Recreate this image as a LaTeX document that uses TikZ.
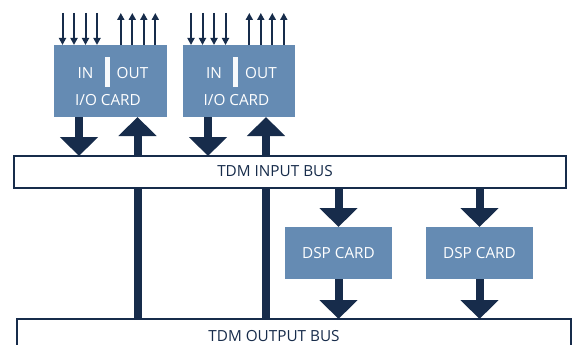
\documentclass[tikz,border=0pt]{standalone}
\usepackage{fontspec}
\setmainfont{Open Sans}
\usepackage{xcolor}
\definecolor{cardblue}{RGB}{101,139,179}
\definecolor{busnavy}{RGB}{23,44,75}
\usetikzlibrary{arrows.meta}
\newcommand{\widthio}{112.5pt}
\newcommand{\heightio}{72pt}
\newcommand{\widthdsp}{107pt}
\newcommand{\heightdsp}{52pt}
\newcommand{\labelfont}{\fontsize{15.3}{18}\selectfont}
\tikzset{
    common/.style={rectangle, inner sep=0pt, outer sep=0pt},
    iocard/.style={common, fill=cardblue, minimum width=\widthio, minimum height=\heightio},
    dspcard/.style={common, fill=cardblue, text=white, font=\labelfont, minimum width=\widthdsp, minimum height=\heightdsp},
    bus/.style={common, draw=busnavy, line width=2pt, fill=white},
    cardtext/.style={inner sep=0pt, text=white, font=\labelfont},
    bustext/.style={inner sep=0pt, text=busnavy, font=\labelfont},
    divider/.style={common, fill=white!95!cardblue, minimum width=5pt, minimum height=30pt},
    bigarrow/.style={busnavy, line width=8pt, -{Triangle[width=37pt, length=19pt]}},
    smallarrow/.style={busnavy, line width=2pt, -{Triangle[width=7pt, length=7pt]}}
}

\begin{document}
\begin{tikzpicture}[x=1pt, y=-1pt]
    \useasboundingbox (0,0) rectangle (575,345);
    \clip (0,0) rectangle (575,345);

    % i/o cards
    \foreach \n/\x in {1/110.5, 2/239} {
        \node[iocard] (io\n) at (\x,81) {};
        \node[cardtext] (io\n-in) at ([xshift=-25pt, yshift=8pt]io\n.center) {IN};
        \node[divider] (io\n-bar) at ([xshift=-3.5pt, yshift=9pt]io\n.center) {};
        \node[cardtext] (io\n-out) at ([xshift=22pt, yshift=8pt]io\n.center) {OUT};
        \node[cardtext] (io\n-name) at ([xshift=-2.5pt, yshift=-19pt]io\n.center) {I/O CARD};
        \foreach \i in {0,...,3} {
            \coordinate (io\n-src\i) at ([xshift=-48pt+\i*11.5pt, yshift=32pt]io\n.north);
            \coordinate (io\n-dst\i) at ([xshift=10.3pt+\i*11.5pt, yshift=32pt]io\n.north);
            \draw[smallarrow] (io\n-src\i) -- (io\n-src\i |- io\n.north);
            \draw[smallarrow] (io\n-dst\i |- io\n.north) -- (io\n-dst\i);
        }
    }

    % dsp cards
    \node[dspcard] (dsp1) at (338.5,253) {DSP CARD};
    \node[dspcard] (dsp2) at (479.5,253) {DSP CARD};

    % buses
    \node[bus, minimum width=554pt, minimum height=60pt] (outbus) at (294,349) {};
    \node[bustext] (outbus-text) at (274,336) {TDM OUTPUT BUS};

    \draw[bigarrow] ([xshift=27pt]io1.south |- outbus.north) -- ([xshift=27pt]io1.south);
    \draw[bigarrow] ([xshift=27pt]io2.south |- outbus.north) -- ([xshift=27pt]io2.south);

    \node[bus, minimum width=552pt, minimum height=32pt] (inbus) at (290,172) {};
    \node[bustext] (inbus-text) at (275,171.5) {TDM INPUT BUS};

    \draw[bigarrow] ([xshift=-31.5pt]io1.south) -- ([xshift=-31.5pt]io1.south |- inbus.north);
    \draw[bigarrow] ([xshift=-31pt]io2.south) -- ([xshift=-31pt]io2.south |- inbus.north);
    \foreach \d in {dsp1, dsp2} {
        \draw[bigarrow] (\d.north |- inbus.south) -- (\d.north);
        \draw[bigarrow] (\d.south) -- (\d.south |- outbus.north);
    }
\end{tikzpicture}
\end{document}
